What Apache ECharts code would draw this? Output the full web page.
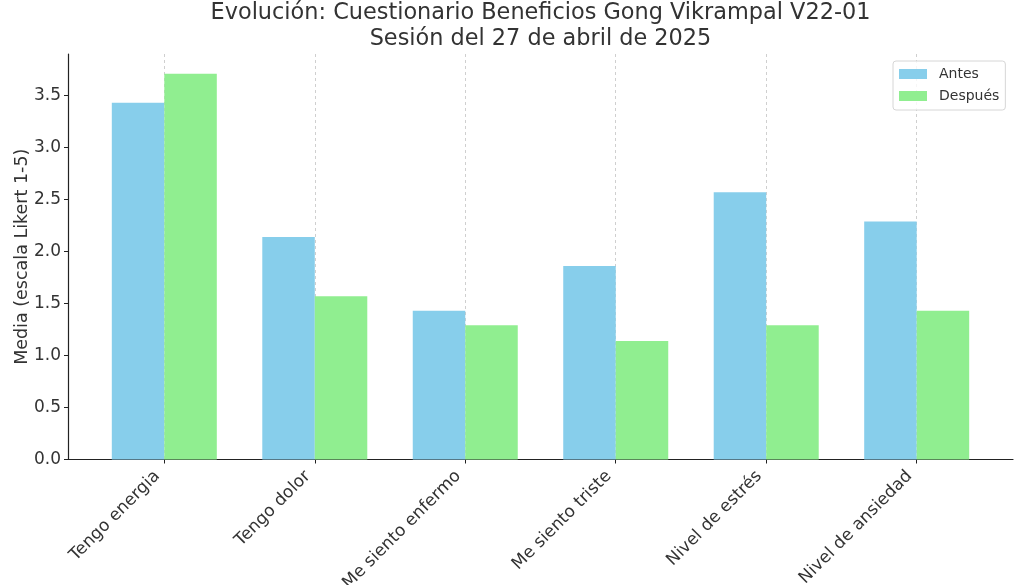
<!DOCTYPE html>
<html>
<head>
<meta charset="utf-8">
<script src="https://cdn.jsdelivr.net/npm/echarts@6/dist/echarts.min.js"></script>
<style>
  html, body { margin: 0; padding: 0; background: #fff; }
  #main { width: 1032px; height: 585px; }
</style>
</head>
<body>
<div id="main"></div>
<script>
// preguntas del cuestionario
const categories = ['Tengo energia', 'Tengo dolor', 'Me siento enfermo', 'Me siento triste', 'Nivel de estrés', 'Nivel de ansiedad'];
// medias (escala Likert 1-5)
const antes = [3.43, 2.14, 1.43, 1.86, 2.57, 2.29];
const despues = [3.71, 1.57, 1.29, 1.14, 1.29, 1.43];
const yTicks = [0, 0.5, 1, 1.5, 2, 2.5, 3, 3.5];
const catIdx = categories.map((c, i) => i);

const font = 'DejaVu Sans';
const textColor = '#333';

const myChart = echarts.init(document.getElementById('main'), null, { renderer: 'canvas' });

const option = {
  backgroundColor: '#fff',
  animation: false,
  title: {
    text: 'Evolución: Cuestionario Beneficios Gong Vikrampal V22-01\nSesión del 27 de abril de 2025',
    left: 540.5,
    top: 0,
    padding: 0,
    textAlign: 'center',
    textStyle: { fontFamily: font, fontSize: 22.4, lineHeight: 26, fontWeight: 'normal', color: textColor }
  },
  legend: {
    orient: 'vertical',
    left: 893,
    top: 61,
    padding: [5, 6, 6, 6],
    itemWidth: 28,
    itemHeight: 10,
    itemGap: 6,
    icon: 'rect',
    borderColor: '#d6d6d6',
    borderWidth: 1,
    borderRadius: 3,
    backgroundColor: 'rgba(255,255,255,0.8)',
    textStyle: { fontFamily: font, fontSize: 14, color: textColor, lineHeight: 16, padding: [0, 0, 0, 7] },
    data: ['Antes', 'Después']
  },
  grid: { left: 68, right: 19, top: 54, bottom: 125.5, containLabel: false, outerBoundsMode: 'none' },
  xAxis: {
    type: 'value',
    min: -0.64,
    max: 5.64,
    axisLine: { show: true, onZero: false, lineStyle: { color: '#222', width: 1.2 } },
    axisTick: { show: true, length: 4, customValues: catIdx, lineStyle: { color: '#222' } },
    axisLabel: {
      customValues: catIdx,
      formatter: v => categories[Math.round(v)],
      rotate: 45,
      margin: 7,
      padding: [0, 10, 0, 0],
      fontFamily: font,
      fontSize: 17,
      color: textColor
    },
    splitLine: { show: true, lineStyle: { color: '#cfcfcf', type: [3, 3], width: 1 } }
  },
  yAxis: {
    type: 'value',
    min: 0,
    max: 3.9,
    interval: 0.5,
    name: 'Media (escala Likert 1-5)',
    nameLocation: 'middle',
    nameGap: 37,
    nameMoveOverlap: false,
    nameTextStyle: { fontFamily: font, fontSize: 17.5, color: textColor },
    axisLine: { show: true, onZero: false, lineStyle: { color: '#222', width: 1.2 } },
    axisTick: { show: true, length: 4, customValues: yTicks, lineStyle: { color: '#222' } },
    axisLabel: {
      customValues: yTicks,
      formatter: v => v.toFixed(1),
      margin: 7,
      fontFamily: font,
      fontSize: 17,
      color: textColor
    },
    splitLine: { show: false }
  },
  series: [
    {
      name: 'Antes',
      type: 'bar',
      barWidth: 52.5,
      barGap: '0%',
      itemStyle: { color: '#87CEEB' },
      data: antes.map((v, i) => [i, v])
    },
    {
      name: 'Después',
      type: 'bar',
      barWidth: 52.5,
      barGap: '0%',
      itemStyle: { color: '#90EE90' },
      data: despues.map((v, i) => [i, v])
    }
  ]
};

myChart.setOption(option);
</script>
</body>
</html>
